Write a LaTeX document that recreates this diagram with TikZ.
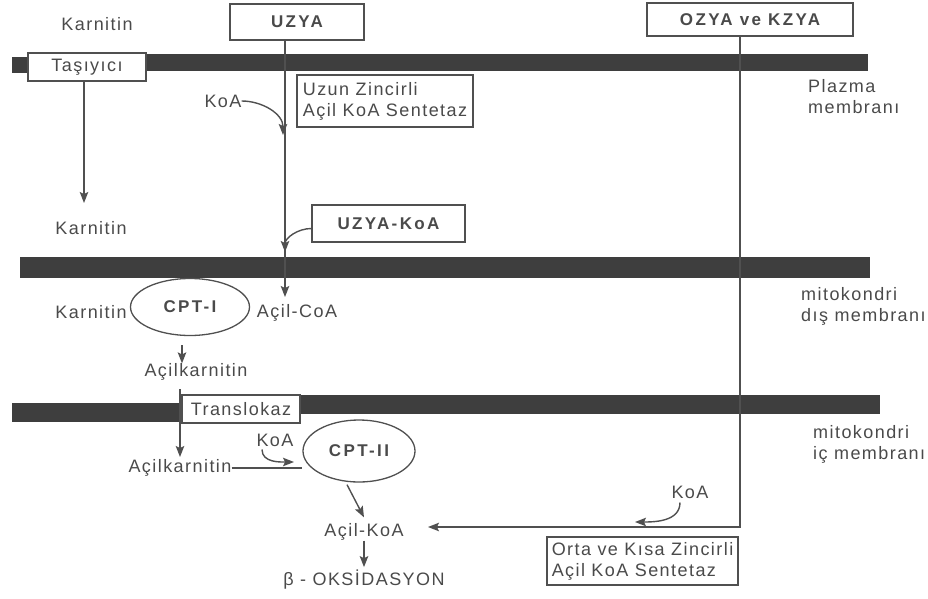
\documentclass[tikz,border=0pt]{standalone}
\usepackage{fontspec}
\setmainfont{Liberation Sans}[LetterSpace=8]
\newfontfamily\bflbl{Liberation Sans}[LetterSpace=14]
\usetikzlibrary{arrows.meta,shapes.geometric}
\definecolor{txt}{HTML}{4A4A4A}
\definecolor{ln}{HTML}{505050}
\definecolor{barc}{HTML}{3E3E3E}
\begin{document}
\begin{tikzpicture}[x=1pt,y=-1pt,
 lbl/.style={font=\fontsize{18}{21}\selectfont, text=txt, inner sep=0pt},
 blbl/.style={font=\bflbl\bfseries\fontsize{17}{20}\selectfont, text=txt},
 box/.style={draw=ln, line width=1.3pt, fill=white, rectangle, inner sep=0pt},
 oval/.style={draw=ln, line width=1.3pt, fill=white, ellipse, inner sep=0pt},
 conn/.style={draw=ln, line width=1.4pt},
 arr/.style={conn, -{Stealth[length=11pt,width=8.5pt,inset=2pt]}},
 membrane/.style={fill=barc, draw=none}]
\useasboundingbox (0,0) rectangle (928,599);
% membranes
\fill[membrane] (12,57) rectangle (30,73);
\fill[membrane] (28,54) rectangle (868,71);
\fill[membrane] (20,257) rectangle (870,278);
\fill[membrane] (12,403) rectangle (182,422);
\fill[membrane] (300,395) rectangle (880,414);
% coordinates (free ends)
\coordinate (tipA) at (285,297);
\coordinate (tipK1) at (283,135);
\coordinate (tipT) at (84,203);
\coordinate (tipU) at (285,252);
\coordinate (tipTr) at (180,457);
\coordinate (topTr) at (180,389);
\coordinate (tipK2) at (294,462);
\coordinate (tipO) at (428,527);
\coordinate (tipK3) at (635,522);
% top boxes and long connectors
\node[box, blbl, minimum width=134pt, minimum height=36pt] (uzya) at (297,22) {UZYA};
\node[box, blbl, minimum width=206pt, minimum height=33pt] (ozya) at (750,19.5) {OZYA ve KZYA};
\draw[arr] (uzya.south -| tipA) -- (tipA);
\draw[arr] ([xshift=-10pt]ozya.south) |- (tipO);
% nodes
\node[lbl] (karnA) at (97,24) {Karnitin};
\node[box, lbl, minimum width=118pt, minimum height=28pt] (tas) at (87,67) {Taşıyıcı};
\node[lbl] (koa1) at (223,101) {KoA};
\node[box, lbl, align=left, inner xsep=3pt, minimum width=176pt, minimum height=52pt] (uzun) at (385,101) {Uzun Zincirli\\Açil KoA Sentetaz};
\node[lbl, align=left, anchor=west] (plaz) at (808,97) {Plazma\\membranı};
\node[lbl] (karnB) at (91,228) {Karnitin};
\node[box, blbl, minimum width=153pt, minimum height=37pt] (uzyakoa) at (388.5,223.5) {UZYA-KoA};
\node[oval, blbl, minimum width=119pt, minimum height=57pt] (cpt1) at (190,307) {CPT-I};
\node[lbl] (karnC) at (91,312) {Karnitin};
\node[lbl] (acilcoa) at (297,313) {Açil-CoA};
\node[lbl] (acilk1) at (196,372) {Açilkarnitin};
\node[lbl, align=left, anchor=west] (mdis) at (801,306) {mitokondri\\dış membranı};
\node[box, lbl, minimum width=118pt, minimum height=28pt] (transl) at (241,409) {Translokaz};
\node[lbl] (acilk2) at (180,468) {Açilkarnitin};
\node[lbl] (koa2) at (275,440) {KoA};
\node[oval, blbl, minimum width=112pt, minimum height=62pt] (cpt2) at (359,451) {CPT-II};
\node[lbl] (acilkoa) at (364,532) {Açil-KoA};
\node[lbl] (beta) at (364,580) {β - OKSİDASYON};
\node[lbl] (koa3) at (690,492) {KoA};
\node[box, lbl, align=left, inner xsep=3pt, minimum width=191pt, minimum height=48pt] (orta) at (642.5,561) {Orta ve Kısa Zincirli\\Açil KoA Sentetaz};
\node[lbl, align=left, anchor=west] (mic) at (813,444) {mitokondri\\iç membranı};
% remaining connectors
\draw[arr] (koa1.east) to[out=0,in=90] (tipK1);
\draw[arr] (tas.south -| tipT) -- (tipT);
\draw[arr] ([yshift=-5pt]uzyakoa.west) to[out=180,in=90] (tipU);
\draw[arr] ([xshift=-8pt,yshift=-9pt]cpt1.south) -- ([xshift=-14pt]acilk1.north);
\draw[arr] (topTr) -- (tipTr);
\draw[conn] (acilk2.east) -- (acilk2.east -| cpt2.west);
\draw[arr] ([xshift=-13pt,yshift=-3pt]koa2.south) to[out=-90,in=180] (tipK2);
\draw[arr] ([xshift=-12pt,yshift=-2pt]cpt2.south) -- ([yshift=6pt]acilkoa.north);
\draw[arr] (acilkoa.south) -- ([yshift=3pt]beta.north);
\draw[arr] ([xshift=-10pt,yshift=-4pt]koa3.south) to[out=-90,in=0] (tipK3);
\end{tikzpicture}
\end{document}
